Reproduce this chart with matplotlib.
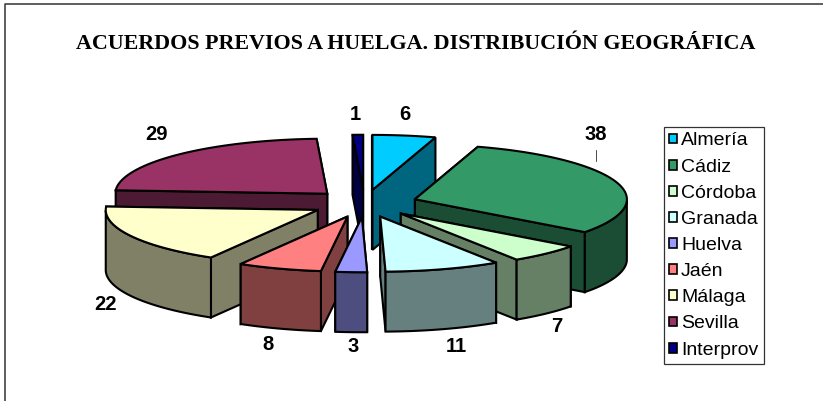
import matplotlib
matplotlib.use("Agg")
import numpy as np
import matplotlib.pyplot as plt
from matplotlib.patches import Polygon, Patch

# chart data
provincias = ["Almería", "Cádiz", "Córdoba", "Granada", "Huelva", "Jaén", "Málaga", "Sevilla", "Interprov"]
acuerdos = [6, 38, 7, 11, 3, 8, 22, 29, 1]
colores = ["#00CCFF", "#339966", "#CCFFCC", "#CCFFFF", "#9999FF", "#FF8080", "#FFFFCC", "#993366", "#000080"]
titulo = "ACUERDOS PREVIOS A HUELGA. DISTRIBUCIÓN GEOGRÁFICA"

# pie geometry in pixels
CX, CY = 364.5, 203.5
RX, RY = 212, 55
ALTO = 60
EXPLODE = 0.25
LW = 1.5
# back to front
orden = [7, 8, 0, 1, 2, 6, 5, 4, 3]

# value label positions
pos_etiquetas = [(405, 114), (596, 135), (557, 326), (456, 346), (353, 346),
                 (268, 344), (106, 304), (157, 135), (355, 114)]


def borde(ang, ax_x, ax_y):
    r = np.radians(ang)
    return ax_x + RX * np.sin(r), ax_y - RY * np.cos(r)


fig = plt.figure(figsize=(8.23, 4.01), dpi=100)
ax = fig.add_axes([0, 0, 1, 1])
ax.set_xlim(0, 823)
ax.set_ylim(401, 0)
ax.axis("off")

# only the top and left of the chart border show
ax.plot([5.5, 5.5, 823], [401, 3.5, 3.5], color="#333333", lw=1.1)

fin = np.cumsum(acuerdos) / sum(acuerdos) * 360
ini = np.concatenate(([0], fin[:-1]))


def oscuro(c):
    return tuple(v * 0.5 for v in matplotlib.colors.to_rgb(c))


for i in orden:
    a0, a1 = ini[i], fin[i]
    medio = np.radians((a0 + a1) / 2)
    # apex moved out along the middle of the slice
    px = CX + EXPLODE * RX * np.sin(medio)
    py = CY - EXPLODE * RY * np.cos(medio)
    angs = np.linspace(a0, a1, 60)
    xs, ys = borde(angs, px, py)

    sombra = oscuro(colores[i])
    caras = []
    for k in (0, -1):
        caras.append([(px, py), (xs[k], ys[k]), (xs[k], ys[k] + ALTO), (px, py + ALTO)])
    caras.sort(key=lambda c: sum(p[1] for p in c))
    for cara in caras:
        ax.add_patch(Polygon(cara, closed=True, fc=sombra, ec="black", lw=LW, joinstyle="miter"))

    # outer wall, only the front part shows
    delante = (angs >= 90) & (angs <= 270)
    if delante.sum() > 1:
        fx, fy = xs[delante], ys[delante]
        pared = list(zip(fx, fy)) + list(zip(fx[::-1], fy[::-1] + ALTO))
        ax.add_patch(Polygon(pared, closed=True, fc=sombra, ec="black", lw=LW))

    arriba = [(px, py)] + list(zip(xs, ys))
    ax.add_patch(Polygon(arriba, closed=True, fc=colores[i], ec="black", lw=LW))

for i, (x, y) in enumerate(pos_etiquetas):
    ax.text(x, y, str(acuerdos[i]), ha="center", va="center", fontsize=14.5,
            fontweight="bold", family="Liberation Sans", color="black")

# leader line of Cadiz
ax.plot([596, 596], [150, 161], color="black", lw=0.5)

ax.text(416, 44, titulo, ha="center", va="center", fontsize=15.8, fontweight="bold",
        family="Liberation Serif", color="black")

handles = [Patch(fc=c, ec="black", lw=1.2) for c in colores]
leg = ax.legend(handles, provincias, loc="upper left", bbox_to_anchor=(664 / 823, 1 - 127 / 401),
                bbox_transform=fig.transFigure, prop={"family": "Liberation Sans", "size": 14},
                fancybox=False, edgecolor="#333333", framealpha=1, borderaxespad=0,
                handlelength=0.4, handleheight=0.4, handletextpad=0.2,
                labelspacing=0.47, borderpad=0.28)
leg.get_frame().set_linewidth(0.9)

fig.savefig("out.png", dpi=100)
